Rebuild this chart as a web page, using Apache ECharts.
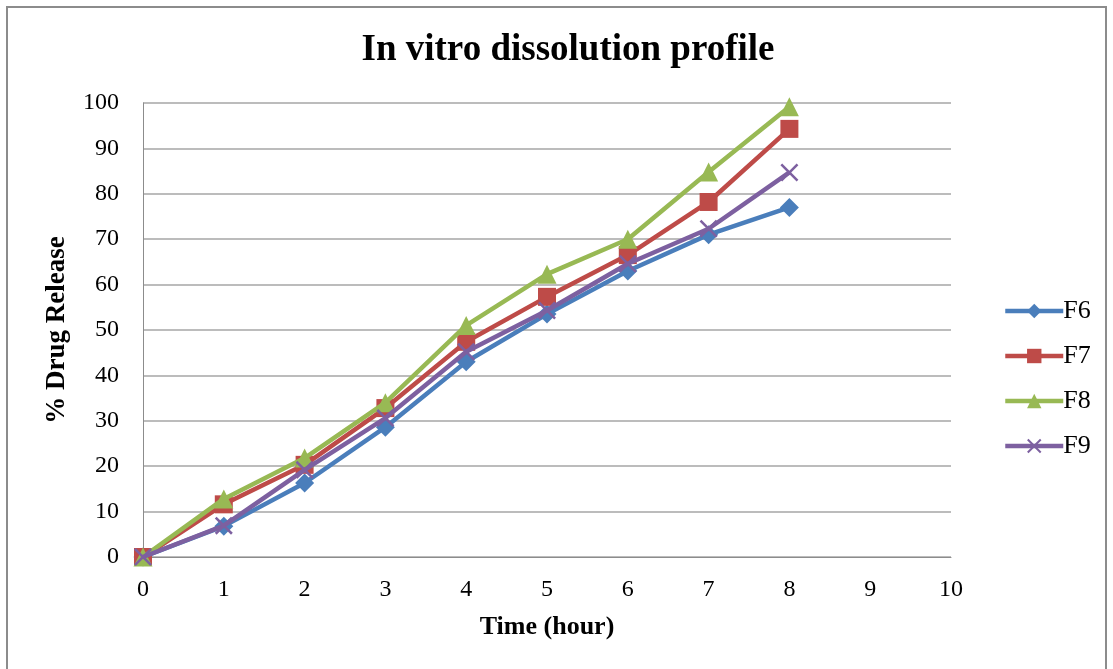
<!DOCTYPE html>
<html>
<head>
<meta charset="utf-8">
<script src="https://cdn.jsdelivr.net/npm/echarts@6/dist/echarts.min.js"></script>
<style>
html,body{margin:0;padding:0;background:#fff;}
#chart{width:1113px;height:669px;}
</style>
</head>
<body>
<div id="chart"></div>
<script>
var timeHours = [0, 1, 2, 3, 4, 5, 6, 7, 8];
var F6 = [0, 6.8, 16.3, 28.6, 43.0, 53.5, 63.0, 71.0, 77.0];
var F7 = [0, 11.6, 20.3, 32.8, 47.4, 57.3, 66.5, 78.2, 94.3];
var F8 = [0, 12.8, 21.8, 34.0, 51.0, 62.3, 70.0, 84.8, 99.2];
var F9 = [0, 6.9, 19.2, 30.6, 45.2, 54.3, 64.6, 72.3, 84.7];
var seriesNames = ['F6', 'F7', 'F8', 'F9'];
var seriesValues = [F6, F7, F8, F9];
var colors = ['#4a7ebb', '#be4b48', '#98b954', '#7d60a0'];
var symbols = ['diamond', 'rect', 'triangle',
  'path://M0,1L1,0L5,4L9,0L10,1L6,5L10,9L9,10L5,6L1,10L0,9L4,5Z'];
var symbolSizes = [19, 18, 19, 18];

var font = '"Liberation Serif", "Times New Roman", serif';
var chart = echarts.init(document.getElementById('chart'));

var series = seriesNames.map(function (n, i) {
  return {
    name: n,
    type: 'line',
    data: timeHours.map(function (t, j) { return [t, seriesValues[i][j]]; }),
    symbol: symbols[i],
    symbolSize: symbolSizes[i],
    showAllSymbol: true,
    lineStyle: { color: colors[i], width: 4.5 },
    itemStyle: { color: colors[i] },
    emphasis: { disabled: true },
    z: 2 + i
  };
});

chart.setOption({
  animation: false,
  backgroundColor: '#fff',
  color: colors,
  graphic: [{
    type: 'rect',
    shape: { x: 7, y: 7, width: 1099, height: 700 },
    style: { fill: 'none', stroke: '#8c8c8c', lineWidth: 2 },
    silent: true
  }],
  title: {
    text: 'In vitro dissolution profile',
    left: 563,
    textAlign: 'center',
    top: 27,
    textStyle: { fontFamily: font, fontSize: 37, fontWeight: 'bold', color: '#000' }
  },
  grid: { left: 143, right: 162, top: 103, bottom: 112, containLabel: false },
  legend: {
    orient: 'vertical',
    left: 998,
    top: 293,
    itemWidth: 58,
    itemHeight: 18,
    itemGap: 19,
    lineStyle: { width: 4.5 },
    textStyle: { fontFamily: font, fontSize: 26, lineHeight: 26, color: '#000', padding: [0, 0, 0, -5] },
    data: seriesNames
  },
  xAxis: {
    type: 'value',
    min: 0, max: 10, interval: 1,
    name: 'Time (hour)',
    nameLocation: 'middle',
    nameGap: 57,
    nameTextStyle: { fontFamily: font, fontSize: 26, fontWeight: 'bold', color: '#000' },
    axisLine: { show: true, lineStyle: { color: '#8c8c8c', width: 1 } },
    axisTick: { show: false },
    axisLabel: { fontFamily: font, fontSize: 24, color: '#000', margin: 21 },
    splitLine: { show: false }
  },
  yAxis: {
    type: 'value',
    min: 0, max: 100, interval: 10,
    name: '% Drug Release',
    nameLocation: 'middle',
    nameGap: 72,
    nameRotate: 90,
    nameTextStyle: { fontFamily: font, fontSize: 27, fontWeight: 'bold', color: '#000' },
    axisLine: { show: true, lineStyle: { color: '#8c8c8c', width: 1 } },
    axisTick: { show: false },
    axisLabel: { fontFamily: font, fontSize: 24, color: '#000', margin: 24, padding: [4, 0, 0, 0] },
    splitLine: { show: true, lineStyle: { color: '#a6a6a6', width: 1.5 } }
  },
  series: series
});
</script>
</body>
</html>
